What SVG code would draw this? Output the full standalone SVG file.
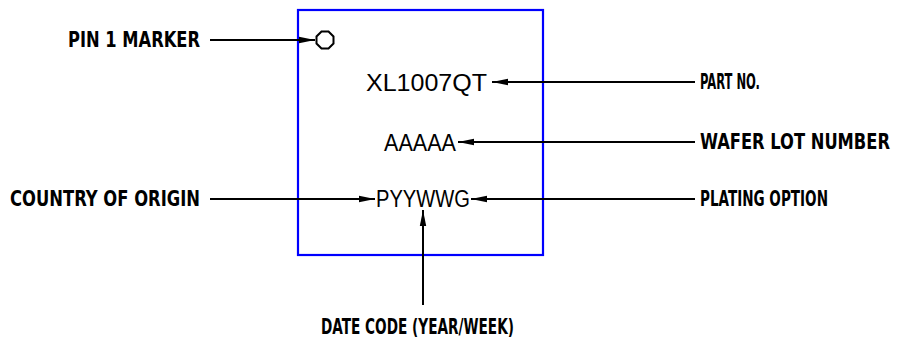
<svg xmlns="http://www.w3.org/2000/svg" width="905" height="339" viewBox="0 0 905 339">
<style>
.lbl{font-family:"DejaVu Sans Condensed","DejaVu Sans",sans-serif;font-weight:bold;font-size:16px;fill:#000}
.mk{font-family:"Liberation Sans",Arial,sans-serif;font-size:23px;fill:#000}
.ln{stroke:#000;stroke-width:2;fill:none}
</style>
<defs>
<marker id="ah" markerWidth="16" markerHeight="8" refX="16" refY="4" orient="auto" markerUnits="userSpaceOnUse">
<path d="M0,0.8 L16,4 L0,7.2 Z" fill="#000"/>
</marker>
</defs>
<rect width="905" height="339" fill="#fff"/>
<g id="package">
<rect x="298" y="10" width="245" height="245" fill="none" stroke="#0000ff" stroke-width="2.2"/>
<polygon points="328.5,31.5 333.5,36.5 333.5,43.5 328.5,48.5 321.5,48.5 316.5,43.5 316.5,36.5 321.5,31.5" fill="none" stroke="#000" stroke-width="2"/>
</g>
<g id="marking">
<text class="mk" x="366" y="91" textLength="121" lengthAdjust="spacingAndGlyphs">XL1007QT</text>
<text class="mk" x="384" y="151" textLength="72" lengthAdjust="spacingAndGlyphs">AAAAA</text>
<text class="mk" x="376" y="207" textLength="94" lengthAdjust="spacingAndGlyphs">PYYWWG</text>
</g>
<g id="labels">
<text id="pin1" class="lbl" transform="translate(68,47) scale(1,1.3)" textLength="132" lengthAdjust="spacingAndGlyphs">PIN 1 MARKER</text>
<text id="partno" class="lbl" transform="translate(700,89) scale(1,1.3)" textLength="60" lengthAdjust="spacingAndGlyphs">PART NO.</text>
<text id="wafer" class="lbl" transform="translate(700,149) scale(1,1.3)" textLength="190" lengthAdjust="spacingAndGlyphs">WAFER LOT NUMBER</text>
<text id="plating" class="lbl" transform="translate(700,206) scale(1,1.3)" textLength="128" lengthAdjust="spacingAndGlyphs">PLATING OPTION</text>
<text id="country" class="lbl" transform="translate(10,206) scale(1,1.3)" textLength="190" lengthAdjust="spacingAndGlyphs">COUNTRY OF ORIGIN</text>
<text id="date" class="lbl" transform="translate(321,334) scale(1,1.3)" textLength="193" lengthAdjust="spacingAndGlyphs">DATE CODE (YEAR/WEEK)</text>
</g>
<g id="connectors">
<line class="ln" x1="210" y1="40" x2="315" y2="40" marker-end="url(#ah)"/>
<line class="ln" x1="695" y1="82" x2="492" y2="82" marker-end="url(#ah)"/>
<line class="ln" x1="695" y1="142" x2="458" y2="142" marker-end="url(#ah)"/>
<line class="ln" x1="210" y1="199" x2="375" y2="199" marker-end="url(#ah)"/>
<line class="ln" x1="695" y1="199" x2="471" y2="199" marker-end="url(#ah)"/>
<line class="ln" x1="423" y1="305" x2="423" y2="210" marker-end="url(#ah)"/>
</g>
</svg>
